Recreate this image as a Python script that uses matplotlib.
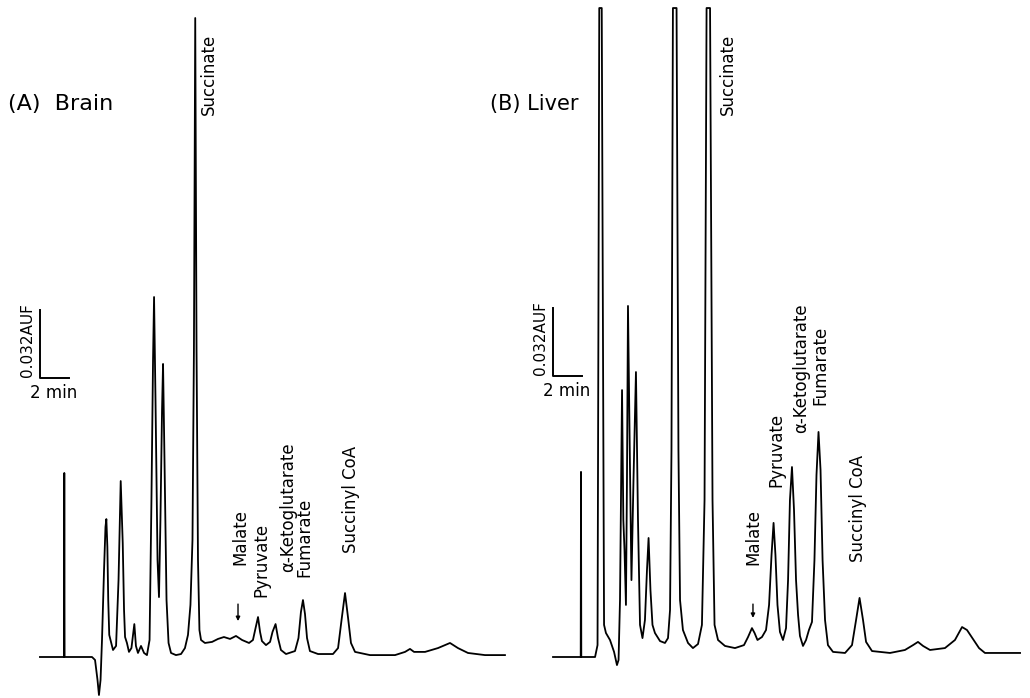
import matplotlib
matplotlib.use("Agg")
import matplotlib.pyplot as plt

# HPLC traces
# time in min (0 = injection mark), signal in mAUF above the starting baseline
brain_time = [-1.68, -0.02, 0.00, 0.02, 1.91, 2.12, 2.29, 2.39, 2.50, 2.60,
              2.74, 2.84, 2.90, 2.97, 3.03, 3.10, 3.22, 3.36, 3.57, 3.74,
              3.89, 4.03, 4.12, 4.19, 4.32, 4.46, 4.63, 4.83, 4.94, 5.08,
              5.29, 5.50, 5.70, 5.88, 6.01, 6.12, 6.19, 6.29, 6.43, 6.53,
              6.63, 6.74, 6.81, 6.91, 7.05, 7.19, 7.36, 7.70, 8.05, 8.32,
              8.53, 8.70, 8.84, 8.94, 9.03, 9.12, 9.22, 9.32, 9.43, 9.70,
              10.19, 10.60, 11.01, 11.43, 11.84, 12.26, 12.74, 13.01, 13.19, 13.36,
              13.50, 13.63, 13.91, 14.19, 14.36, 14.57, 14.74, 14.94, 15.29, 15.91,
              16.15, 16.32, 16.46, 16.60, 16.74, 16.94, 17.50, 18.53, 18.88, 19.12,
              19.36, 19.57, 19.77, 20.05, 21.08, 22.81, 23.50, 23.84, 24.12, 24.88,
              25.77, 26.60, 27.15, 27.84, 29.01, 30.39]
brain_signal = [0, 0, 86.6, 0, 0, -1.4, -10.8, -17.9, -10.8, 8.0,
                40.9, 61.2, 64.9, 51.8, 26.8, 10.4, 7.1, 3.3, 5.2, 36.2,
                82.8, 53.6, 22.1, 9.4, 6.6, 2.4, 4.2, 15.5, 5.2, 1.9,
                5.2, 1.9, 0.9, 8.0, 73.9, 139.8, 169.4, 120.9, 45.6, 28.2,
                64.5, 116.2, 137.9, 92.7, 26.8, 6.6, 1.9, 0.9, 1.4, 4.2,
                10.4, 24.5, 55.1, 144.5, 300.7, 144.5, 45.6, 12.7, 8.0, 6.6,
                7.1, 8.5, 9.4, 8.5, 9.9, 8.0, 6.6, 8.0, 13.6, 18.8,
                11.8, 7.5, 5.6, 7.1, 11.8, 15.5, 8.9, 3.3, 1.4, 2.8,
                8.9, 21.2, 26.8, 20.2, 8.9, 2.8, 1.4, 1.4, 4.2, 17.4,
                30.1, 18.4, 6.6, 2.4, 0.9, 0.9, 2.4, 3.8, 2.4, 2.4,
                4.2, 6.6, 4.2, 1.9, 0.9, 0.9]

liver_time = [-1.93, -0.02, 0.00, 0.02, 0.97, 1.14, 1.26, 1.43, 1.59, 1.72,
              2.00, 2.28, 2.48, 2.59, 2.69, 2.83, 2.92, 3.00, 3.10, 3.17,
              3.24, 3.38, 3.48, 3.62, 3.79, 3.93, 4.07, 4.24, 4.41, 4.55,
              4.66, 4.79, 4.93, 5.10, 5.45, 5.79, 6.00, 6.14, 6.24, 6.34,
              6.59, 6.72, 6.83, 7.03, 7.38, 7.72, 8.07, 8.34, 8.52, 8.66,
              8.90, 9.07, 9.21, 9.45, 9.93, 10.62, 11.24, 11.52, 11.79, 11.97,
              12.17, 12.48, 12.76, 12.97, 13.14, 13.28, 13.41, 13.55, 13.72, 13.93,
              14.14, 14.28, 14.41, 14.55, 14.69, 14.83, 14.97, 15.10, 15.31, 15.52,
              15.72, 15.93, 16.10, 16.24, 16.38, 16.52, 16.66, 16.83, 17.03, 17.38,
              18.21, 18.69, 18.97, 19.21, 19.45, 19.66, 20.07, 21.31, 22.34, 22.90,
              23.24, 23.59, 24.07, 25.10, 25.79, 26.28, 26.62, 27.03, 27.45, 27.86,
              28.90, 30.28]
liver_signal = [0, 0, 87.1, 0, 0, 5.6, 305.4, 305.4, 15.1, 11.3,
                8.0, 2.4, -3.8, -1.4, 26.8, 125.6, 64.5, 50.4, 24.5, 83.3,
                165.2, 88.0, 36.2, 83.3, 134.1, 64.5, 15.1, 8.9, 17.4, 40.9,
                56.0, 31.5, 15.1, 11.3, 7.5, 6.6, 8.9, 22.1, 97.4, 305.4,
                305.4, 97.4, 26.8, 12.7, 6.6, 4.2, 6.1, 15.1, 73.9, 305.4,
                305.4, 73.9, 15.1, 8.0, 5.2, 4.2, 5.6, 9.4, 13.6, 11.3,
                8.0, 9.4, 12.7, 24.5, 48.0, 63.1, 48.0, 24.5, 11.8, 8.0,
                13.6, 36.2, 73.9, 89.4, 69.2, 36.2, 19.8, 9.9, 5.2, 8.0,
                12.7, 16.5, 45.6, 85.6, 105.9, 88.0, 45.6, 17.4, 5.6, 2.4,
                1.9, 5.6, 17.4, 27.8, 17.4, 7.1, 2.8, 1.9, 3.3, 5.6,
                7.1, 5.2, 3.3, 4.2, 8.0, 14.1, 12.7, 8.5, 4.2, 1.9,
                1.9, 1.9]

peak_names = ["Succinate", "Malate", "Pyruvate", "α-Ketoglutarate", "Fumarate", "Succinyl CoA"]

# where each peak name sits (time, signal of the text's lower end)
brain_label_pos = [(9.98, 255.1), (12.15, 43.3), (13.57, 28.2), (15.46, 40.0), (16.57, 37.6), (19.77, 48.9)]
liver_label_pos = [(10.14, 255.1), (11.90, 43.3), (13.45, 80.0), (15.17, 105.4), (16.52, 118.6), (19.07, 44.7)]

# malate marker arrows (time, from, to)
brain_arrow = (11.98, 24.9, 16.9)
liver_arrow = (11.86, 24.9, 18.4)

scale_min = 2
scale_mauf = 32

# chart geometry (pixels of the sheet)
W, H = 1030, 698
PX_PER_MIN = 14.5
PX_PER_MAUF = 2.125


def make_axes(fig, x0, y0):
    # one transparent axes over the whole sheet, origin at pixel (x0, y0)
    ax = fig.add_axes([0, 0, 1, 1])
    ax.set_xlim(-x0 / PX_PER_MIN, (W - x0) / PX_PER_MIN)
    ax.set_ylim(-(H - y0) / PX_PER_MAUF, y0 / PX_PER_MAUF)
    ax.axis("off")
    return ax


def draw_panel(ax, t, s, title, title_size, title_t, label_pos, arrow, bar_t, bar_s):
    ax.plot(t, s, color="black", lw=1.3, solid_joinstyle="round")
    ax.text(title_t, 260.2, title, fontsize=title_size, ha="left", va="center")
    for name, (lt, ls) in zip(peak_names, label_pos):
        ax.text(lt, ls, name, rotation=90, fontsize=12, ha="center", va="bottom")
    at, a0, a1 = arrow
    ax.annotate("", xy=(at, a1), xytext=(at, a0),
                arrowprops=dict(arrowstyle="-|>", color="black", lw=1.0,
                                mutation_scale=6, shrinkA=0, shrinkB=0))
    # scale bar
    ax.plot([bar_t, bar_t, bar_t + scale_min], [bar_s + scale_mauf, bar_s, bar_s],
            color="black", lw=1.4)
    ax.text(bar_t - 0.86, bar_s + 18, "0.032AUF", rotation=90, fontsize=11,
            ha="center", va="center")
    ax.text(bar_t + 0.95, bar_s - 7.2, "2 min", fontsize=12, ha="center", va="center")


fig = plt.figure(figsize=(W / 100, H / 100), dpi=100)
fig.patch.set_facecolor("white")

ax_a = make_axes(fig, 64.3, 657)
draw_panel(ax_a, brain_time, brain_signal, "(A)  Brain", 16, -3.88,
           brain_label_pos, brain_arrow, -1.68, 131.3)

ax_b = make_axes(fig, 581, 657)
draw_panel(ax_b, liver_time, liver_signal, "(B) Liver", 15, -6.28,
           liver_label_pos, liver_arrow, -1.93, 132.2)

fig.savefig("out.png", dpi=100, facecolor="white")
